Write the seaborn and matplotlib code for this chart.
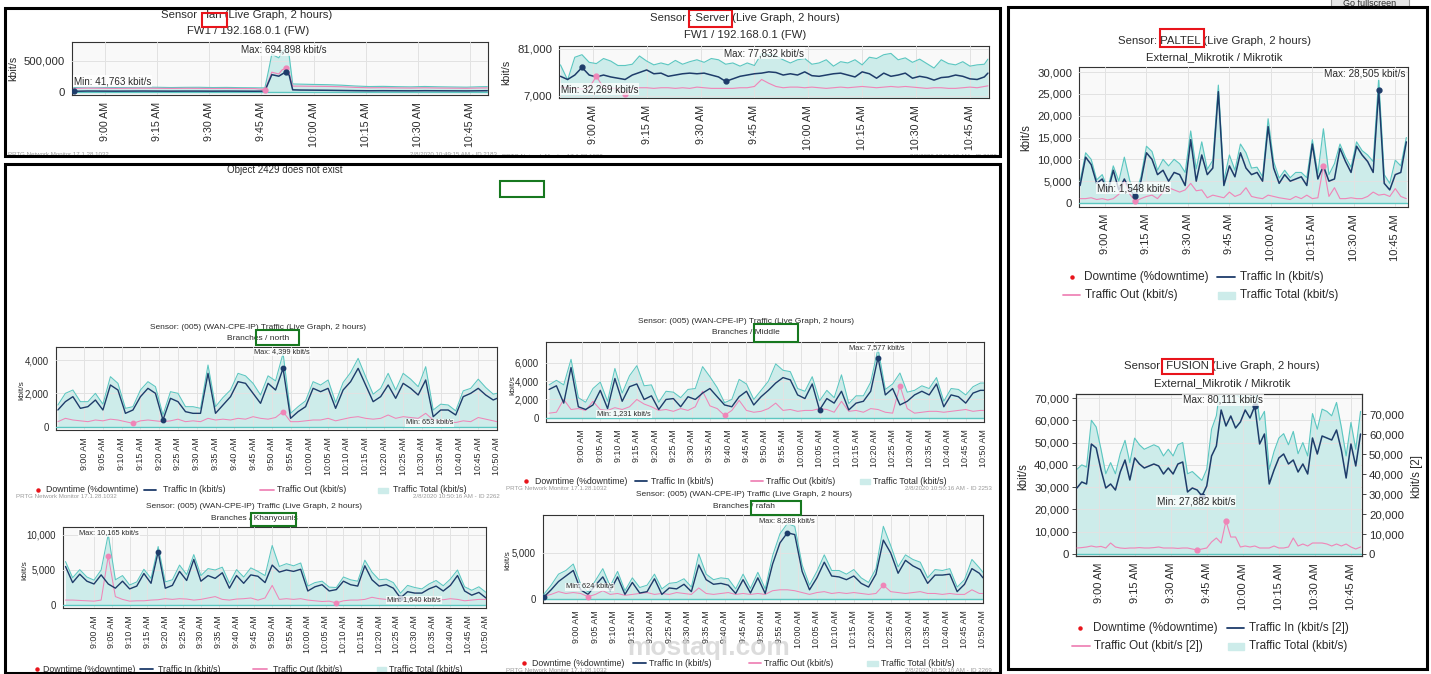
import numpy as np
import matplotlib
matplotlib.use("Agg")
import matplotlib.pyplot as plt
import seaborn as sns
from matplotlib.patches import Rectangle
from matplotlib.lines import Line2D
from matplotlib.ticker import FuncFormatter

W, H = 1431, 674

TEAL = "#5cc7c1"
FILL = "#cdecea"
NAVY = "#1e3c6a"
PINK = "#ef86b8"
GRID = "#e2e2e2"
TXT = "#2b2b2b"
RED = "#e8141b"
GREEN = "#17781f"

# ---- data: minutes after 8:50 AM, values in thousands of kbit/s ----
lan_t = [1, 5, 9, 13, 17, 21, 25, 29, 33, 37, 41, 45, 49, 53, 56, 57, 58, 60, 61, 62,
         63, 64, 66, 70, 74, 78, 82, 86, 90, 94, 98, 102, 106, 110, 114, 118, 120]
lan_in = [12, 16, 15, 14, 15, 16, 15, 14, 15, 15, 14, 15, 14, 13, 14, 150, 280, 255, 290, 320,
          270, 35, 32, 30, 28, 25, 22, 20, 21, 20, 19, 21, 20, 19, 18, 20, 21]
lan_out = [58, 62, 60, 58, 60, 62, 60, 58, 60, 59, 57, 58, 56, 55, 40, 170, 320, 290, 360, 380,
           310, 95, 95, 92, 90, 85, 75, 68, 70, 66, 64, 68, 64, 62, 60, 65, 66]
lan_total = [72, 80, 76, 74, 76, 78, 76, 72, 75, 76, 72, 74, 70, 68, 66, 330, 610, 550, 650, 695,
             580, 130, 127, 122, 118, 110, 97, 88, 91, 86, 83, 89, 84, 81, 78, 85, 87]

server_t = list(range(1, 121, 2)) + [120]
server_in = [38, 33, 40, 52, 40, 37, 40, 37, 35, 33, 40, 44, 48, 42, 43, 38, 40, 42, 43, 42,
             43, 40, 37, 30, 34, 38, 40, 42, 43, 45, 44, 40, 42, 40, 45, 39, 38, 40, 42, 43,
             40, 37, 45, 42, 35, 43, 38, 40, 43, 35, 38, 36, 32, 36, 37, 40, 38, 34, 33, 37, 43]
server_out = [21, 20, 19, 18, 20, 38, 20, 19, 19, 10, 19, 20, 20, 19, 20, 20, 19, 20, 19, 21,
              20, 19, 19, 19, 19, 20, 20, 22, 33, 27, 22, 20, 21, 21, 20, 21, 20, 19, 20, 21,
              20, 21, 22, 21, 20, 21, 22, 21, 22, 21, 20, 19, 20, 20, 19, 19, 20, 21, 20, 22, 23]
server_total = [56, 32.3, 68, 72, 60, 58, 66, 62, 55, 55, 57, 70, 62, 56, 59, 56, 63, 57, 61, 64,
                60, 66, 64, 57, 59, 54, 59, 55, 74, 72, 70, 64, 59, 64, 66, 57, 59, 64, 54, 61,
                59, 64, 56, 68, 66, 72, 74, 64, 67, 60, 65, 58, 51, 64, 58, 56, 61, 54, 56, 57, 65]

paltel_t = list(range(1, 121, 2))
paltel_in = [4.0, 10.5, 8.8, 4.5, 5.5, 2.5, 7.5, 3.0, 5.5, 3.0,
             1.5, 5.0, 11.5, 10.0, 6.5, 7.5, 5.0, 7.0, 6.5, 4.0,
             14.5, 5.0, 11.0, 6.5, 8.0, 25.5, 4.0, 8.5, 6.0, 11.5,
             8.0, 6.5, 7.0, 5.0, 17.5, 8.0, 4.5, 6.5, 5.0, 5.5,
             6.0, 4.0, 13.5, 5.5, 8.5, 5.0, 5.5, 12.5, 9.5, 7.0,
             13.0, 11.0, 9.5, 7.0, 25.8, 4.5, 3.0, 6.5, 7.0, 14.0]
paltel_out = [1.0, 1.0, 1.2, 0.8, 1.0, 0.7, 1.0, 2.0, 5.0, 2.0,
              0.4, 1.0, 1.5, 1.8, 1.0, 2.5, 3.5, 3.0, 2.5, 3.0,
              4.5, 2.8, 3.0, 1.2, 1.8, 1.5, 1.2, 2.5, 1.5, 2.0,
              3.5, 1.5, 1.2, 1.0, 1.8, 1.5, 1.2, 1.0, 0.8, 1.5,
              1.0, 1.8, 1.0, 1.2, 8.5, 1.5, 3.5, 1.0, 1.0, 1.2,
              1.0, 1.0, 1.5, 2.5, 1.8, 2.0, 1.5, 3.3, 1.5, 1.0]
paltel_total = [5.0, 11.5, 10.0, 5.3, 6.5, 3.2, 8.5, 5.0, 10.5, 5.0,
                1.9, 6.0, 13.0, 11.8, 7.5, 10.0, 8.5, 10.0, 9.0, 7.0,
                16.5, 7.8, 14.0, 7.7, 9.8, 27.0, 5.2, 11.0, 7.5, 13.5,
                11.5, 8.0, 8.2, 6.0, 19.3, 9.5, 5.7, 7.5, 5.8, 7.0,
                7.0, 5.8, 14.5, 6.7, 17.0, 6.5, 9.0, 13.5, 10.5, 8.2,
                14.0, 12.0, 11.0, 9.5, 28.5, 6.5, 4.5, 9.8, 8.5, 15.0]

fusion_t = list(range(1, 121, 2))
fusion_in = [33, 36, 35, 55, 53, 42, 33, 35, 32, 41,
             47, 37, 48, 45, 43, 44, 45, 44, 40, 43,
             40, 45, 46, 31, 33, 32, 29, 34, 49, 54,
             72, 64, 69, 63, 66, 72, 68, 74, 55, 60,
             35, 42, 48, 50, 45, 47, 41, 45, 40, 58,
             50, 59, 58, 57, 62, 52, 38, 55, 44, 60]
fusion_out = [3.0, 3.2, 3.5, 4.0, 3.5, 3.8, 3.0, 5.5, 3.5, 3.0,
              2.8, 3.0, 3.0, 3.2, 3.0, 3.0, 3.2, 3.5, 3.0, 3.0,
              3.0, 2.8, 3.0, 3.0, 2.5, 2.0, 2.5, 3.0, 6.0, 8.0,
              5.5, 16.5, 8.5, 8.5, 3.5, 4.0, 3.5, 4.0, 3.0, 3.0,
              3.0, 4.0, 3.0, 3.0, 3.5, 8.0, 4.0, 5.0, 4.0, 5.5,
              5.5, 5.5, 5.0, 4.0, 5.0, 4.0, 5.0, 3.5, 2.5, 3.5]
fusion_total = [38, 40, 39, 60, 57, 47, 36, 41, 36, 45,
                51, 41, 52, 49, 47, 48, 49, 48, 44, 47,
                44, 49, 50, 36, 37, 35, 33, 38, 56, 62,
                78, 80, 78, 72, 70, 76, 72, 78, 60, 64,
                38, 46, 52, 54, 49, 55, 45, 50, 44, 63,
                56, 65, 64, 62, 68, 57, 44, 59, 47, 64]

north_t = list(range(3, 121, 2)) + [120]
north_in = [1.0, 1.5, 1.8, 1.1, 1.2, 1.6, 1.0, 2.5, 2.2, 0.8,
            1.0, 1.8, 2.3, 2.0, 0.4, 1.7, 1.5, 0.9, 0.8, 0.8,
            3.2, 0.8, 1.3, 1.8, 2.7, 2.6, 2.0, 1.4, 2.6, 2.2,
            3.5, 0.5, 0.9, 1.2, 2.3, 2.1, 2.3, 1.1, 2.2, 2.7,
            3.5, 2.5, 1.5, 1.8, 2.5, 1.7, 2.6, 2.3, 1.9, 2.8,
            0.6, 1.0, 1.0, 0.7, 1.8, 2.0, 2.3, 1.9, 1.6, 1.7]
north_out = [0.3, 0.5, 0.4, 0.35, 0.3, 0.4, 0.35, 0.45, 0.4, 0.3,
             0.2, 0.35, 0.4, 0.35, 0.3, 0.35, 0.45, 0.3, 0.35, 0.3,
             0.5, 0.4, 0.45, 0.4, 0.5, 0.45, 0.6, 0.5, 0.45, 0.55,
             0.9, 0.3, 0.3, 0.35, 0.4, 0.4, 0.5, 0.35, 0.45, 0.55,
             0.6, 0.5, 0.45, 0.5, 0.7, 0.5, 0.6, 0.55, 0.5, 0.8,
             0.4, 0.35, 0.3, 0.25, 0.35, 0.3, 0.55, 0.45, 0.35, 0.3]
north_total = [1.3, 2.0, 2.2, 1.5, 1.5, 2.0, 1.35, 3.0, 2.6, 1.1,
               1.2, 2.2, 2.7, 2.4, 0.7, 2.1, 2.0, 1.2, 1.2, 1.1,
               3.7, 1.2, 1.75, 2.2, 3.2, 3.05, 2.6, 1.9, 3.05, 2.75,
               4.4, 0.8, 1.2, 1.55, 2.7, 2.5, 2.8, 1.45, 2.65, 3.25,
               4.1, 3.0, 1.95, 2.3, 3.2, 2.2, 3.2, 2.85, 2.4, 3.6,
               1.0, 1.35, 1.3, 0.95, 2.15, 2.3, 2.85, 2.35, 1.95, 2.0]

middle_t = list(range(1, 121, 2)) + [120]
middle_in = [3.1, 3.5, 1.6, 5.5, 1.2, 0.9, 1.4, 3.0, 1.0, 4.3,
             1.8, 3.4, 3.7, 2.0, 2.4, 0.9, 2.0, 2.1, 1.2, 2.3,
             2.0, 2.7, 3.2, 2.3, 1.4, 1.2, 2.3, 2.9, 1.4, 2.3,
             3.0, 3.8, 4.4, 4.15, 2.5, 2.1, 3.7, 0.85, 2.1, 1.6,
             2.9, 0.85, 1.6, 1.8, 2.9, 6.6, 2.5, 3.2, 1.4, 1.8,
             2.5, 2.9, 2.5, 3.7, 1.2, 2.5, 2.3, 1.6, 2.7, 3.0, 3.0]
middle_out = [0.5, 0.6, 2.0, 0.9, 1.0, 0.8, 1.8, 0.9, 0.8, 1.1,
              0.9, 1.2, 2.0, 1.5, 1.2, 0.8, 0.9, 0.7, 1.0, 0.8,
              1.2, 2.9, 1.3, 1.0, 0.25, 0.8, 1.9, 0.8, 0.6, 0.7,
              1.0, 1.6, 0.8, 0.9, 0.7, 0.8, 0.8, 1.0, 0.9, 0.6,
              1.8, 0.7, 0.8, 0.6, 1.0, 0.9, 0.6, 0.5, 3.5, 1.0,
              0.5, 0.6, 0.7, 0.7, 0.6, 0.7, 0.8, 0.9, 0.7, 0.8, 0.8]
middle_total = [3.6, 4.1, 3.6, 6.4, 2.2, 1.7, 3.2, 3.9, 1.8, 5.4,
                2.7, 4.6, 5.7, 3.5, 3.6, 1.7, 2.9, 2.8, 2.2, 3.1,
                3.2, 5.6, 4.5, 3.3, 1.65, 2.0, 4.2, 3.7, 2.0, 3.0,
                4.0, 5.9, 5.2, 5.05, 3.2, 2.9, 4.5, 1.85, 3.0, 2.2,
                4.7, 1.55, 2.4, 2.4, 3.9, 7.6, 3.1, 3.7, 4.9, 2.8,
                3.0, 3.5, 3.2, 4.4, 1.8, 3.2, 3.1, 2.5, 3.4, 3.8, 3.8]

khan_t = list(range(2, 122, 2))
khan_in = [5.5, 3.2, 4.4, 3.4, 3.0, 4.3, 3.0, 2.4, 3.4, 2.3,
           2.7, 4.5, 3.1, 7.6, 2.4, 2.8, 4.8, 3.5, 6.5, 3.4,
           4.2, 3.8, 4.6, 2.4, 4.2, 3.1, 4.3, 4.1, 3.2, 5.7,
           4.7, 5.0, 4.8, 5.1, 2.0, 2.6, 2.9, 2.0, 2.2, 3.4,
           2.9, 2.7, 5.6, 3.6, 2.7, 2.9, 2.4, 1.0, 1.9, 1.7,
           1.7, 2.3, 2.7, 2.0, 2.8, 4.2, 2.0, 1.4, 1.8, 1.0]
khan_out = [0.7, 0.7, 0.65, 0.6, 0.55, 0.7, 7.0, 1.2, 0.8, 0.55,
            0.6, 0.6, 0.7, 0.75, 0.9, 0.8, 0.9, 0.85, 0.7, 0.8,
            1.0, 1.2, 0.8, 0.7, 0.85, 0.9, 1.0, 0.7, 1.0, 2.8,
            0.8, 0.9, 0.8, 0.9, 0.7, 0.6, 0.5, 0.55, 0.3, 0.6,
            0.7, 0.7, 0.8, 1.1, 0.9, 0.8, 0.8, 0.7, 0.9, 0.8,
            0.6, 0.7, 0.8, 0.75, 0.9, 0.8, 0.6, 0.7, 0.8, 0.8]
khan_total = [6.2, 3.9, 5.05, 4.0, 3.55, 5.0, 10.1, 3.6, 4.2, 2.85,
              3.3, 5.1, 3.8, 8.35, 3.3, 3.6, 5.7, 4.35, 7.2, 4.2,
              5.2, 5.0, 5.4, 3.1, 5.05, 4.0, 5.3, 4.8, 4.2, 8.5,
              5.5, 5.9, 5.6, 6.0, 2.7, 3.2, 3.4, 2.55, 2.5, 4.0,
              3.6, 3.4, 6.4, 4.7, 3.6, 3.7, 3.2, 1.7, 2.8, 2.5,
              2.3, 3.0, 3.5, 2.75, 3.7, 5.0, 2.6, 2.1, 2.6, 1.8]

rafah_t = list(range(1, 121, 2)) + [120]
rafah_in = [0.2, 1.0, 1.9, 2.5, 3.1, 1.0, 0.5, 1.5, 2.4, 0.9,
            2.4, 0.5, 1.8, 0.65, 0.8, 2.2, 0.5, 1.2, 1.1, 1.6,
            0.8, 3.7, 2.1, 1.6, 1.7, 1.5, 0.6, 2.1, 0.65, 2.3,
            0.6, 3.8, 6.1, 7.2, 7.0, 3.0, 1.0, 2.3, 4.0, 2.5,
            2.4, 2.1, 2.5, 1.7, 1.3, 2.7, 6.4, 5.0, 2.8, 4.2,
            3.6, 3.2, 1.7, 2.6, 2.6, 2.7, 0.8, 1.6, 3.3, 2.8, 2.3]
rafah_out = [0.3, 0.5, 0.8, 0.6, 0.7, 0.6, 0.25, 0.5, 0.9, 0.5,
             0.6, 0.4, 0.5, 0.6, 0.7, 0.5, 0.6, 0.5, 0.7, 0.6,
             0.5, 1.2, 0.6, 0.5, 0.6, 0.7, 0.5, 0.6, 0.5, 0.6,
             0.5, 0.9, 1.0, 1.0, 0.9, 0.7, 0.5, 0.7, 0.8, 0.6,
             0.7, 0.6, 0.7, 0.6, 0.5, 0.6, 1.5, 0.8, 0.7, 0.6,
             0.7, 0.8, 0.6, 0.6, 0.5, 0.6, 0.5, 0.5, 1.0, 0.6, 0.6]
rafah_total = [0.5, 1.5, 2.7, 3.1, 3.8, 1.6, 0.75, 2.0, 3.3, 1.4,
               3.0, 0.9, 2.3, 1.25, 1.5, 2.7, 1.1, 1.7, 1.8, 2.2,
               1.3, 4.9, 2.7, 2.1, 2.3, 2.2, 1.1, 2.7, 1.15, 2.9,
               1.1, 4.7, 7.1, 8.2, 7.9, 3.7, 1.5, 3.0, 4.8, 3.1,
               3.1, 2.7, 3.2, 2.3, 1.8, 3.3, 7.9, 5.8, 3.5, 4.8,
               4.3, 4.0, 2.3, 3.2, 3.1, 3.3, 1.3, 2.1, 4.3, 3.4, 2.9]

branch_title = "Sensor: (005) (WAN-CPE-IP) Traffic (Live Graph, 2 hours)"

sns.set_style("white")
plt.rcParams["font.family"] = ["Liberation Sans", "DejaVu Sans"]

fig = plt.figure(figsize=(W / 100, H / 100), dpi=100)


def fx(x):
    return x / W


def fy(y):
    return 1 - y / H


def add_ax(l, t, r, b):
    return fig.add_axes([fx(l), fy(b), (r - l) / W, (b - t) / H])


def label(x, y, s, size, ha="center", color=TXT, **kw):
    fig.text(fx(x), fy(y), s, fontsize=size, ha=ha, va="center", color=color, **kw)


def tag(x, y, s, size, ha="left"):
    fig.text(fx(x), fy(y), s, fontsize=size, ha=ha, va="center", color=TXT, zorder=20,
             bbox=dict(facecolor="white", edgecolor="none", alpha=0.75, pad=0.6))


def box(l, t, r, b, color, lw):
    fig.add_artist(Rectangle((fx(l), fy(b)), (r - l) / W, (b - t) / H, fill=False,
                             edgecolor=color, lw=lw, transform=fig.transFigure, zorder=30))


def clock(m):
    h, mm = divmod(8 * 60 + 50 + m, 60)
    return f"{h}:{mm:02d} AM"


comma = FuncFormatter(lambda v, p: f"{v:,.0f}")


def style_y(ax, yticks, ysize):
    ax.set_yticks(yticks)
    ax.yaxis.set_major_formatter(comma)
    ax.tick_params(axis="y", labelsize=ysize, length=3, width=0.6, pad=2, colors=TXT)


def chart(ax, t, v_in, v_out, v_tot, xlim, ylim, yticks, step, ysize, xsize,
          lw=1.1, ms=3.5, lax=None):
    t = np.array(t, float)
    v_in = np.array(v_in) * 1000
    v_out = np.array(v_out) * 1000
    v_tot = np.array(v_tot) * 1000
    ax.set_facecolor("#f9f9f9")
    ax.fill_between(t, v_tot, 0, color=FILL, lw=0, zorder=1)
    sns.lineplot(x=t, y=v_tot, ax=ax, color=TEAL, lw=lw * 0.75, errorbar=None, zorder=3)
    ax.axhline(0, color=TEAL, lw=1.0, zorder=3)
    lax = lax or ax
    sns.lineplot(x=t, y=v_out, ax=lax, color=PINK, lw=lw * 0.75, errorbar=None, zorder=4)
    sns.lineplot(x=t, y=v_in, ax=lax, color=NAVY, lw=lw, errorbar=None, zorder=5)
    for v, c in ((v_out, PINK), (v_in, NAVY)):
        idx = [int(np.argmax(v)), int(np.argmin(v))]
        lax.plot(t[idx], v[idx], "o", color=c, ms=ms, zorder=6)
    ax.set_xlim(xlim)
    ax.set_ylim(ylim)
    style_y(ax, yticks, ysize)
    ticks = list(range(10, 121, step))
    ax.set_xticks(ticks)
    ax.set_xticklabels([clock(m) for m in ticks], rotation=90)
    ax.tick_params(axis="x", labelsize=xsize, length=3, width=0.6, pad=2, colors=TXT)
    ax.grid(True, color=GRID, lw=0.7, zorder=2)
    ax.set_axisbelow(False)
    for s in ax.spines.values():
        s.set_color("#333333")
        s.set_linewidth(0.8)
    ax.set_xlabel("")
    ax.set_ylabel("")
    if lax is not ax:
        lax.set_xlabel("")
        lax.set_ylabel("")


def legend(y, items, size, ph):
    for kind, x0, x1, tx, text in items:
        if kind == "dot":
            fig.add_artist(Line2D([fx(x0)], [fy(y)], marker="o", ms=2.2, color=RED, lw=0,
                                  transform=fig.transFigure))
        elif kind == "patch":
            fig.add_artist(Rectangle((fx(x0), fy(y + ph / 2)), (x1 - x0) / W, ph / H,
                                     color=FILL, transform=fig.transFigure))
        else:
            fig.add_artist(Line2D([fx(x0), fx(x1)], [fy(y), fy(y)], color=kind, lw=1.3,
                                  transform=fig.transFigure))
        label(tx, y, text, size, ha="left")


# ---- lan ----
ax = add_ax(72, 42, 488, 95)
chart(ax, lan_t, lan_in, lan_out, lan_total, (0.5, 120.2), (-48000, 806000), [0, 500000],
      15, 8.2, 7.7)
label(247, 15, "Sensor : lan (Live Graph, 2 hours)", 8.2)
label(248, 31, "FW1 / 192.168.0.1 (FW)", 8.2)
tag(241, 50, "Max: 694,898 kbit/s", 7.1)
tag(74, 81, "Min: 41,763 kbit/s", 7.1)
label(13, 68, "kbit/s", 7.7, rotation=90)
box(202, 13, 227, 27, RED, 1.5)
label(8, 155, "PRTG Network Monitor 17.1.28.1032", 4.4, ha="left", color="#9a9a9a")
label(497, 155, "2/8/2020 10:49:15 AM - ID 2183", 4.4, ha="right", color="#9a9a9a")

# ---- Server ----
ax = add_ax(559, 46, 989, 98)
chart(ax, server_t, server_in, server_out, server_total, (0.6, 120.3), (3850, 85700),
      [7000, 81000], 15, 8.2, 7.7)
label(745, 18, "Sensor : Server (Live Graph, 2 hours)", 8.2)
label(745, 35, "FW1 / 192.168.0.1 (FW)", 8.2)
tag(724, 53, "Max: 77,832 kbit/s", 7.1)
tag(561, 89, "Min: 32,269 kbit/s", 7.1)
label(506, 72, "kbit/s", 7.7, rotation=90)
box(689, 10, 732, 27, RED, 1.5)
label(502, 156, "PRTG Network Monitor 17.1.28.1032", 4.4, ha="left", color="#9a9a9a")
label(997, 156, "2/8/2020 10:50:16 AM - ID 2182", 4.4, ha="right", color="#9a9a9a")

# ---- PALTEL ----
ax = add_ax(1079, 67, 1408, 207)
chart(ax, paltel_t, paltel_in, paltel_out, paltel_total, (0.6, 119.6), (-916, 31150),
      list(range(0, 30001, 5000)), 15, 8.2, 8.0)
label(1214, 41, "Sensor: PALTEL (Live Graph, 2 hours)", 8.2)
label(1214, 57, "External_Mikrotik / Mikrotik", 8.2)
tag(1405, 74, "Max: 28,505 kbit/s", 7.2, ha="right")
tag(1097, 188, "Min: 1,548 kbit/s", 7.2)
label(1026, 138, "kbit/s", 8.3, rotation=90)
box(1160, 29, 1204, 47, RED, 1.5)
legend(277, [("dot", 1072, 0, 1084, "Downtime (%downtime)"),
             (NAVY, 1217, 1235, 1240, "Traffic In (kbit/s)")], 8.5, 7)
legend(295, [(PINK, 1063, 1080, 1085, "Traffic Out (kbit/s)"),
             ("patch", 1218, 1235, 1240, "Traffic Total (kbit/s)")], 8.5, 7)

# ---- FUSION ----
ax = add_ax(1076, 394, 1362, 556)
ax2 = ax.twinx()
chart(ax, fusion_t, fusion_in, fusion_out, fusion_total, (0.6, 119.6), (-900, 71800),
      list(range(0, 70001, 10000)), 15, 8.2, 8.0, lax=ax2)
ax2.set_ylim(-1000, 80000)
style_y(ax2, list(range(0, 70001, 10000)), 8.2)
for s in ax2.spines.values():
    s.set_color("#333333")
    s.set_linewidth(0.8)
label(1222, 366, "Sensor: FUSION (Live Graph, 2 hours)", 8.2)
label(1222, 383, "External_Mikrotik / Mikrotik", 8.2)
tag(1183, 400, "Max: 80,111 kbit/s", 7.2)
tag(1157, 501, "Min: 27,882 kbit/s", 7.2)
label(1023, 477, "kbit/s", 8.3, rotation=90)
label(1417, 477, "kbit/s [2]", 8.3, rotation=90)
box(1162, 359, 1213, 374, RED, 1.5)
legend(628, [("dot", 1080, 0, 1093, "Downtime (%downtime)"),
             (NAVY, 1227, 1244, 1249, "Traffic In (kbit/s [2])")], 8.5, 7)
legend(646, [(PINK, 1072, 1090, 1094, "Traffic Out (kbit/s [2])"),
             ("patch", 1228, 1244, 1249, "Traffic Total (kbit/s)")], 8.5, 7)

# ---- branches ----
branches = [
    # name, axes box, data, xlim, ylim, yticks, title, max/min tags, ylabel, green box, legend, footer
    ("north", (56, 347, 497, 430), (north_t, north_in, north_out, north_total), (2.5, 120),
     (-200, 4780), [0, 2000, 4000], (258, 327, 338),
     ((254, 352, "Max: 4,399 kbit/s"), (406, 423, "Min: 653 kbit/s")), (22, 390),
     (256, 330, 299, 345), (490, [38, 46, 144, 156, 163, 260, 274, 277, 378, 388, 393]),
     (16, 500, 497, "2/8/2020 10:50:16 AM - ID 2262")),
    ("Middle", (546, 342, 984, 422), (middle_t, middle_in, middle_out, middle_total), (0.15, 120),
     (-470, 8300), [0, 2000, 4000, 6000], (746, 322, 333),
     ((849, 348, "Max: 7,577 kbit/s"), (597, 414, "Min: 1,231 kbit/s")), (513, 385),
     (754, 324, 798, 342), (481, [526, 535, 635, 647, 651, 751, 763, 766, 860, 870, 873]),
     (506, 992, 488, "2/8/2020 10:50:16 AM - ID 2253")),
    ("Khanyounis", (63, 527, 486, 608), (khan_t, khan_in, khan_out, khan_total), (1.3, 120),
     (-430, 11140), [0, 5000, 10000], (254, 507, 519),
     ((79, 533, "Max: 10,165 kbit/s"), (387, 600, "Min: 1,640 kbit/s")), (25, 570),
     (251, 513, 296, 526), (669, [37, 43, 140, 153, 158, 253, 267, 273, 377, 386, 389]),
     None),
    ("rafah", (543, 515, 983, 603), (rafah_t, rafah_in, rafah_out, rafah_total), (0.8, 120),
     (-435, 9130), [0, 5000], (744, 495, 507),
     ((759, 521, "Max: 8,288 kbit/s"), (566, 587, "Min: 624 kbit/s")), (508, 560),
     (751, 501, 801, 515), (663, [524, 532, 633, 646, 649, 749, 761, 764, 867, 878, 881]),
     (506, 992, 671, "2/8/2020 10:50:16 AM - ID 2269")),
]

for name, rect, data, xlim, ylim, yticks, ttl, tags, ylab, gbox, leg, foot in branches:
    ax = add_ax(*rect)
    chart(ax, *data, xlim, ylim, yticks, 5, 6.9, 6.4, lw=1.0, ms=3.2)
    label(ttl[0], ttl[1], branch_title, 6.0)
    label(ttl[0], ttl[2], "Branches / " + name, 6.0)
    for x, y, s in tags:
        tag(x, y, s, 5.3)
    label(ylab[0], ylab[1], "kbit/s", 6.0, rotation=90)
    box(*gbox, GREEN, 1.5)
    ly, p = leg
    legend(ly, [("dot", p[0], 0, p[1], "Downtime (%downtime)"),
                (NAVY, p[2], p[3], p[4], "Traffic In (kbit/s)"),
                (PINK, p[5], p[6], p[7], "Traffic Out (kbit/s)"),
                ("patch", p[8], p[9], p[10], "Traffic Total (kbit/s)")], 6.3, 5)
    if foot:
        label(foot[0], foot[2], "PRTG Network Monitor 17.1.28.1032", 4.4, ha="left", color="#9a9a9a")
        label(foot[1], foot[2], foot[3], 4.4, ha="right", color="#9a9a9a")

# ---- page furniture ----
label(285, 170, "Object 2429 does not exist", 7.0)
box(500, 181, 544, 197, GREEN, 1.5)
box(5, 8, 1000, 156, "black", 2.2)
box(5, 164, 1000, 673, "black", 2.2)
box(1008, 7, 1427, 669, "black", 2.2)
fig.add_artist(Rectangle((fx(1331), fy(8)), 78 / W, 12 / H, facecolor="#e6e6e6",
                         edgecolor="#9a9a9a", lw=0.8, transform=fig.transFigure))
label(1370, 4, "Go fullscreen", 6.5)
fig.text(fx(709), fy(648), "mostaql.com", fontsize=19, fontweight="bold", color="#d4d4d4",
         alpha=0.8, ha="center", va="center", zorder=40)

fig.savefig("out.png", dpi=100)
